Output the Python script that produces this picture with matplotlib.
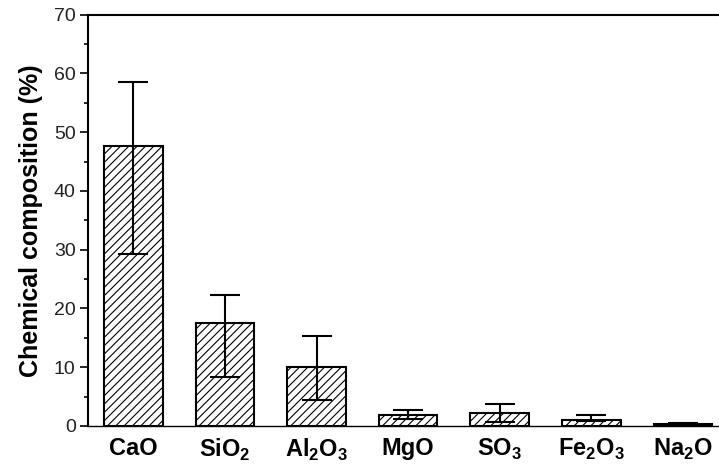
import matplotlib.pyplot as plt
import numpy as np

plt.rcParams['font.family'] = ['Liberation Sans', 'DejaVu Sans']
plt.rcParams['mathtext.fontset'] = 'custom'
plt.rcParams['mathtext.rm'] = 'Liberation Sans:bold'
plt.rcParams['mathtext.bf'] = 'Liberation Sans:bold'
plt.rcParams['hatch.linewidth'] = 0.8

# oxide composition (%), mean with lower / upper bounds of the range
oxides = ['CaO', r'SiO$_\mathbf{2}$', r'Al$_\mathbf{2}$O$_\mathbf{3}$', 'MgO',
          r'SO$_\mathbf{3}$', r'Fe$_\mathbf{2}$O$_\mathbf{3}$', r'Na$_\mathbf{2}$O']
mean = [47.6, 17.5, 10.0, 1.9, 2.15, 1.1, 0.3]
low = [29.3, 8.3, 4.4, 1.2, 0.6, 0.8, 0.2]
high = [58.5, 22.3, 15.4, 2.8, 3.7, 1.9, 0.5]

mean = np.array(mean)
yerr = [mean - np.array(low), np.array(high) - mean]
x = np.arange(1, len(oxides) + 1)

fig = plt.figure(figsize=(7.19, 4.67), dpi=100)
ax = fig.add_axes([0.1217, 0.0878, 0.892, 0.8807])

ax.bar(x, mean, width=0.64, color='white', edgecolor='black',
       linewidth=1.5, hatch='////', zorder=2)
ax.errorbar(x, mean, yerr=yerr, fmt='none', ecolor='black',
            elinewidth=1.5, capsize=10.5, capthick=1.5, zorder=3)

ax.set_xlim(0.5, 7.5)
ax.set_ylim(0, 70)
ax.set_yticks(np.arange(0, 71, 10))
ax.set_yticks(np.arange(5, 70, 10), minor=True)
ax.set_xticks(x)
ax.set_xticklabels(oxides, fontsize=17, fontweight='bold')
ax.tick_params(axis='x', length=0, pad=8)
ax.tick_params(axis='y', which='major', length=5.5, width=1.2,
               labelsize=14, pad=3, labelcolor='#222222')
ax.tick_params(axis='y', which='minor', length=3, width=1.2)
ax.set_ylabel('Chemical composition (%)', fontsize=18, fontweight='bold',
              labelpad=8)

for side in ['left', 'top', 'right']:
    ax.spines[side].set_linewidth(1.5)
ax.spines['bottom'].set_linewidth(1.0)

fig.savefig('out.png', dpi=100)
